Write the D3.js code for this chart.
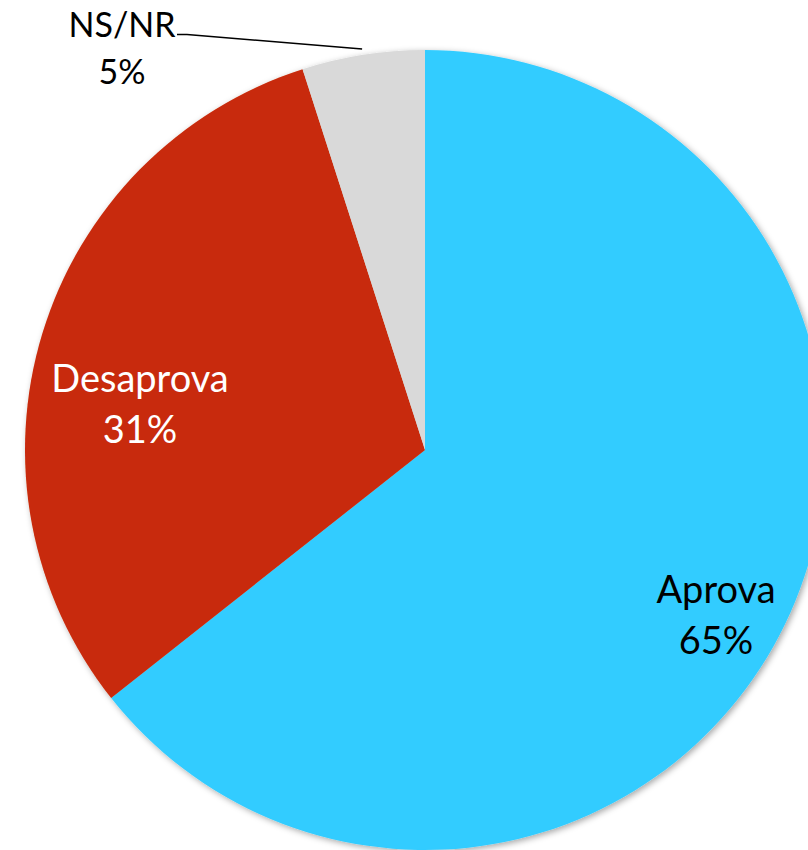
<!DOCTYPE html>
<html><head><meta charset="utf-8">
<script src="https://cdn.jsdelivr.net/npm/d3@7"></script>
<style>html,body{margin:0;padding:0;background:#fff;overflow:hidden}</style>
</head><body>
<svg id="c" width="808" height="850"></svg>
<script>
const categories = ["Aprova", "Desaprova", "NS/NR"];
const values = [65, 31, 5];
const labels = ["65%", "31%", "5%"];
const colors = ["#33CCFF", "#C82A08", "#D9D9D9"];
const textColors = ["#000", "#fff", "#000"];

const svg = d3.select("#c");
const cx = 425, cy = 450, R = 400;
const defs = svg.append("defs");
const f = defs.append("filter").attr("id","sh").attr("x","-10%").attr("y","-10%").attr("width","120%").attr("height","120%");
f.append("feDropShadow").attr("dx",2).attr("dy",2).attr("stdDeviation",3).attr("flood-color","#000").attr("flood-opacity",0.35);

const pie = d3.pie().sort(null).value(d => d)(values);
const arc = d3.arc().innerRadius(0).outerRadius(R);
const g = svg.append("g").attr("transform", `translate(${cx},${cy})`);
g.append("g").attr("filter","url(#sh)").selectAll("path").data(pie).join("path")
  .attr("d", arc).attr("fill", (d,i) => colors[i]);

// label anchors (offsets from center, layout only)
const labelPos = [[291, 153], [-285, -58], [-303, -413]];
const sizes = [38, 38, 34];
const gaps = [51, 51, 47];
const font = "Lato, 'Noto Sans', sans-serif";
pie.forEach((d, i) => {
  const [lx, ly] = labelPos[i];
  const t = g.append("text").attr("text-anchor","middle").attr("font-family",font)
    .attr("font-size",sizes[i]).attr("fill",textColors[i]);
  t.append("tspan").attr("x",lx).attr("y",ly).text(categories[i]);
  t.append("tspan").attr("x",lx).attr("y",ly+gaps[i]).text(labels[i]);
});
// leader line for NS/NR
const ns = pie[2];
const mid = (ns.startAngle + ns.endAngle) / 2;
const ex = Math.sin(mid) * (R + 6), ey = -Math.cos(mid) * (R + 6);
g.append("path").attr("fill","none").attr("stroke","#000").attr("stroke-width",1.5)
  .attr("d", `M${-248},${-415.5}L${-238},${-415.5}L${ex},${ey}`);
</script>
</body></html>
